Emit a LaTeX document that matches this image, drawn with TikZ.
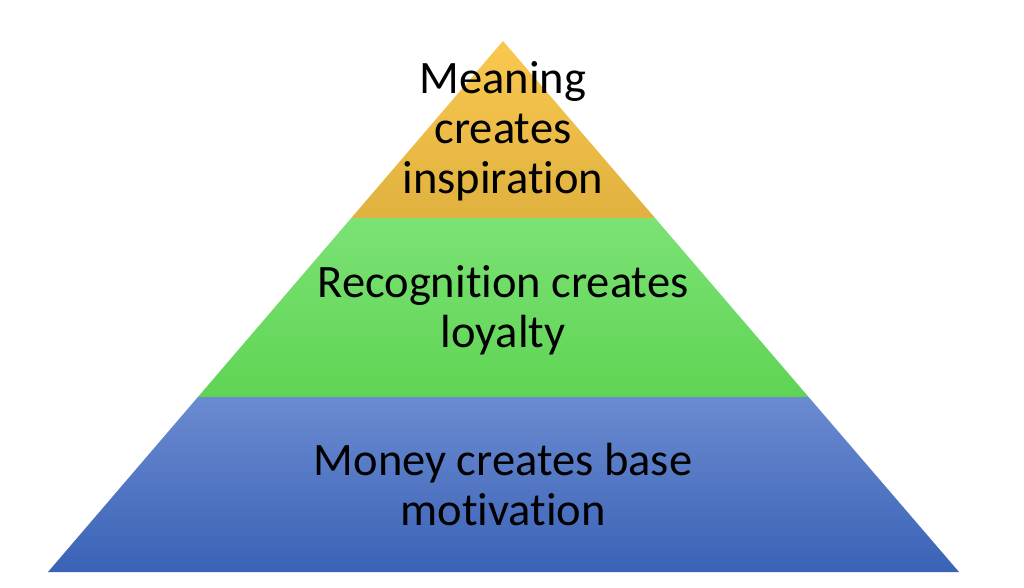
\documentclass[tikz,border=0pt]{standalone}
\usepackage{fontspec}
\setmainfont[Ligatures=NoCommon,RawFeature={-liga;-dlig}]{Carlito}
\definecolor{ytop}{HTML}{FAC84F}
\definecolor{ybot}{HTML}{E0B13F}
\definecolor{gtop}{HTML}{7BE274}
\definecolor{gbot}{HTML}{5FD454}
\definecolor{btop}{HTML}{6B8BD1}
\definecolor{bbot}{HTML}{3A62B6}
\begin{document}
\begin{tikzpicture}[x=1pt,y=-1pt,
  tier/.style={draw=none},
  label/.style={align=center,inner sep=0pt,font=\fontsize{46.5}{50}\selectfont,text=black}]
\useasboundingbox (0,0) rectangle (1024,588);
\coordinate (apex) at (503,41);
\coordinate (yl) at (351.3,218);
\coordinate (yr) at (655.0,218);
\coordinate (gl) at (197.9,397);
\coordinate (gr) at (808.6,397);
\coordinate (bl) at (48,572);
\coordinate (br) at (959,572);
\shade[tier,top color=ytop,bottom color=ybot] (apex) -- (yr) -- (yl) -- cycle;
\shade[tier,top color=gtop,bottom color=gbot] (yl) -- (yr) -- (gr) -- (gl) -- cycle;
\shade[tier,top color=btop,bottom color=bbot] (gl) -- (gr) -- (br) -- (bl) -- cycle;
\node[label] (top) at (503,131) {Meaning\\creates\\inspiration};
\node[label] (mid) at (503,310) {Recognition creates\\loyalty};
\node[label] (bot) at (503,485) {Money creates base\\motivation};
\end{tikzpicture}
\end{document}
